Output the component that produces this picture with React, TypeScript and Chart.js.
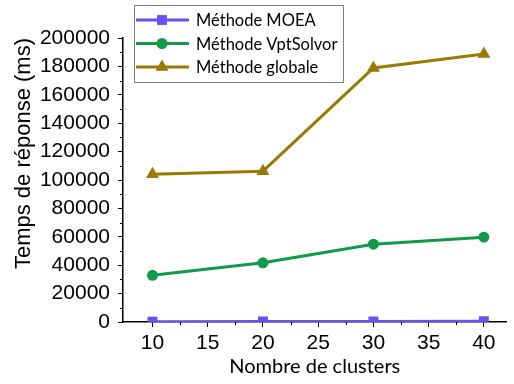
import React, { useEffect, useRef } from "react";
import { Chart, registerables } from "chart.js";

Chart.register(...registerables);

const clusters = [10, 20, 30, 40];
const moeaValues = [250, 300, 400, 500];
const vptValues = [32900, 41700, 54800, 59700];
const globaleValues = [104100, 106200, 178900, 188700];
const seriesNames = ["Méthode MOEA", "Méthode VptSolvor", "Méthode globale"];
const seriesColors = ["#6a50f2", "#109a4a", "#9b7a04"];
const xTickValues = [10, 15, 20, 25, 30, 35, 40];
const xMinorTicks = [12.5, 17.5, 22.5, 27.5, 32.5, 37.5];
const yTickValues = [0, 20000, 40000, 60000, 80000, 100000, 120000, 140000, 160000, 180000, 200000];
const yMinorTicks = [10000, 30000, 50000, 70000, 90000, 110000, 130000, 150000, 170000, 190000];
const xTitle = "Nombre de clusters";
const yTitle = "Temps de réponse (ms)";

const tickFont = { family: "Liberation Sans", size: 21 };
const legendFontFamily = "Lato, 'Open Sans', sans-serif";

const minorTicksPlugin = {
  id: "minorTicks",
  afterDraw(chart: any) {
    const ctx = chart.ctx;
    const xs = chart.scales.x;
    const ys = chart.scales.y;
    const area = chart.chartArea;
    ctx.save();
    ctx.strokeStyle = "#000";
    ctx.lineWidth = 1;
    ctx.beginPath();
    xMinorTicks.forEach((v) => {
      const px = Math.round(xs.getPixelForValue(v)) + 0.5;
      ctx.moveTo(px, area.bottom);
      ctx.lineTo(px, area.bottom + 3);
    });
    yMinorTicks.forEach((v) => {
      const py = Math.round(ys.getPixelForValue(v)) + 0.5;
      ctx.moveTo(area.left, py);
      ctx.lineTo(area.left - 3, py);
    });
    ctx.stroke();
    ctx.restore();
  },
};

function drawMarker(ctx: CanvasRenderingContext2D, style: string, x: number, y: number, r: number) {
  ctx.beginPath();
  if (style === "rect") {
    const s = r * Math.SQRT1_2;
    ctx.rect(x - s, y - s, 2 * s, 2 * s);
  } else if (style === "circle") {
    ctx.arc(x, y, r, 0, Math.PI * 2);
  } else {
    for (let k = 0; k < 3; k++) {
      const a = (k * 2 * Math.PI) / 3;
      const px = x + Math.sin(a) * r;
      const py = y - Math.cos(a) * r;
      if (k === 0) ctx.moveTo(px, py);
      else ctx.lineTo(px, py);
    }
    ctx.closePath();
  }
  ctx.fill();
}

const boxLegendPlugin = {
  id: "boxLegend",
  afterDraw(chart: any) {
    const ctx = chart.ctx;
    const bx = 134.5, by = 5.5, bw = 209, bh = 77;
    ctx.save();
    ctx.fillStyle = "#fff";
    ctx.fillRect(bx, by, bw, bh);
    ctx.strokeStyle = "#808080";
    ctx.lineWidth = 1;
    ctx.strokeRect(bx, by, bw, bh);
    const rowY = [20, 43.5, 67];
    chart.data.datasets.forEach((ds: any, i: number) => {
      const y = rowY[i];
      ctx.strokeStyle = ds.borderColor;
      ctx.lineWidth = 3;
      ctx.beginPath();
      ctx.moveTo(136, y);
      ctx.lineTo(189, y);
      ctx.stroke();
      ctx.fillStyle = ds.pointBackgroundColor;
      drawMarker(ctx, ds.pointStyle, 162, y, ds.pointRadius);
      ctx.fillStyle = "#000";
      ctx.font = `16.5px ${legendFontFamily}`;
      ctx.textBaseline = "middle";
      ctx.textAlign = "left";
      ctx.fillText(ds.label, 196, y + 1);
    });
    ctx.restore();
  },
};

export default function App() {
  const canvasRef = useRef<HTMLCanvasElement | null>(null);

  useEffect(() => {
    if (!canvasRef.current) return;
    const mk = (label: string, data: number[], color: string, style: string, radius: number) => ({
      label,
      data: clusters.map((c, i) => ({ x: c, y: data[i] })),
      borderColor: color,
      backgroundColor: color,
      pointBackgroundColor: color,
      pointBorderColor: color,
      pointBorderWidth: 0,
      pointStyle: style,
      pointRadius: radius,
      borderWidth: 3,
      tension: 0,
    });
    const chart = new Chart(canvasRef.current, {
      type: "line",
      data: {
        datasets: [
          mk(seriesNames[0], moeaValues, seriesColors[0], "rect", 7),
          mk(seriesNames[1], vptValues, seriesColors[1], "circle", 5.5),
          mk(seriesNames[2], globaleValues, seriesColors[2], "triangle", 7.5),
        ] as any,
      },
      options: {
        animation: false,
        responsive: false,
        devicePixelRatio: 1,
        layout: { padding: { left: 0, top: 38, right: 1, bottom: 0 } },
        plugins: {
          legend: { display: false },
          tooltip: { enabled: false },
        },
        scales: {
          x: {
            type: "linear",
            min: 7.33,
            max: 42.05,
            afterBuildTicks: (scale: any) => {
              scale.ticks = xTickValues.map((v) => ({ value: v }));
            },
            afterFit: (scale: any) => {
              scale.height = 62;
            },
            grid: {
              display: true,
              drawOnChartArea: false,
              drawTicks: true,
              tickLength: 5,
              color: "#000",
              lineWidth: 1,
            },
            border: { display: true, color: "#000", width: 1.5 },
            ticks: {
              font: tickFont,
              color: "#000",
              padding: 4,
              maxRotation: 0,
              autoSkip: false,
              callback: (v: any) => String(v),
            },
            title: {
              display: true,
              text: xTitle,
              color: "#000",
              font: { family: legendFontFamily, size: 20 },
              padding: { top: 0, bottom: 5 },
            },
          },
          y: {
            type: "linear",
            min: 0,
            max: 200000,
            afterBuildTicks: (scale: any) => {
              scale.ticks = yTickValues.map((v) => ({ value: v }));
            },
            afterFit: (scale: any) => {
              scale.width = 123;
            },
            grid: {
              display: true,
              drawOnChartArea: false,
              drawTicks: true,
              tickLength: 5,
              color: "#000",
              lineWidth: 1,
            },
            border: { display: true, color: "#000", width: 1.5 },
            ticks: {
              font: tickFont,
              color: "#000",
              padding: 8,
              autoSkip: false,
              callback: (v: any) => String(v),
            },
            title: {
              display: true,
              text: yTitle,
              color: "#000",
              align: "end",
              font: { family: "Liberation Sans", size: 22 },
              padding: { top: 11, bottom: 0 },
            },
          },
        },
      } as any,
      plugins: [minorTicksPlugin, boxLegendPlugin],
    });
    return () => chart.destroy();
  }, []);

  return (
    <div style={{ position: "absolute", left: 0, top: 0, width: 514, height: 384, background: "#fff" }}>
      <canvas ref={canvasRef} width={514} height={384} />
    </div>
  );
}
